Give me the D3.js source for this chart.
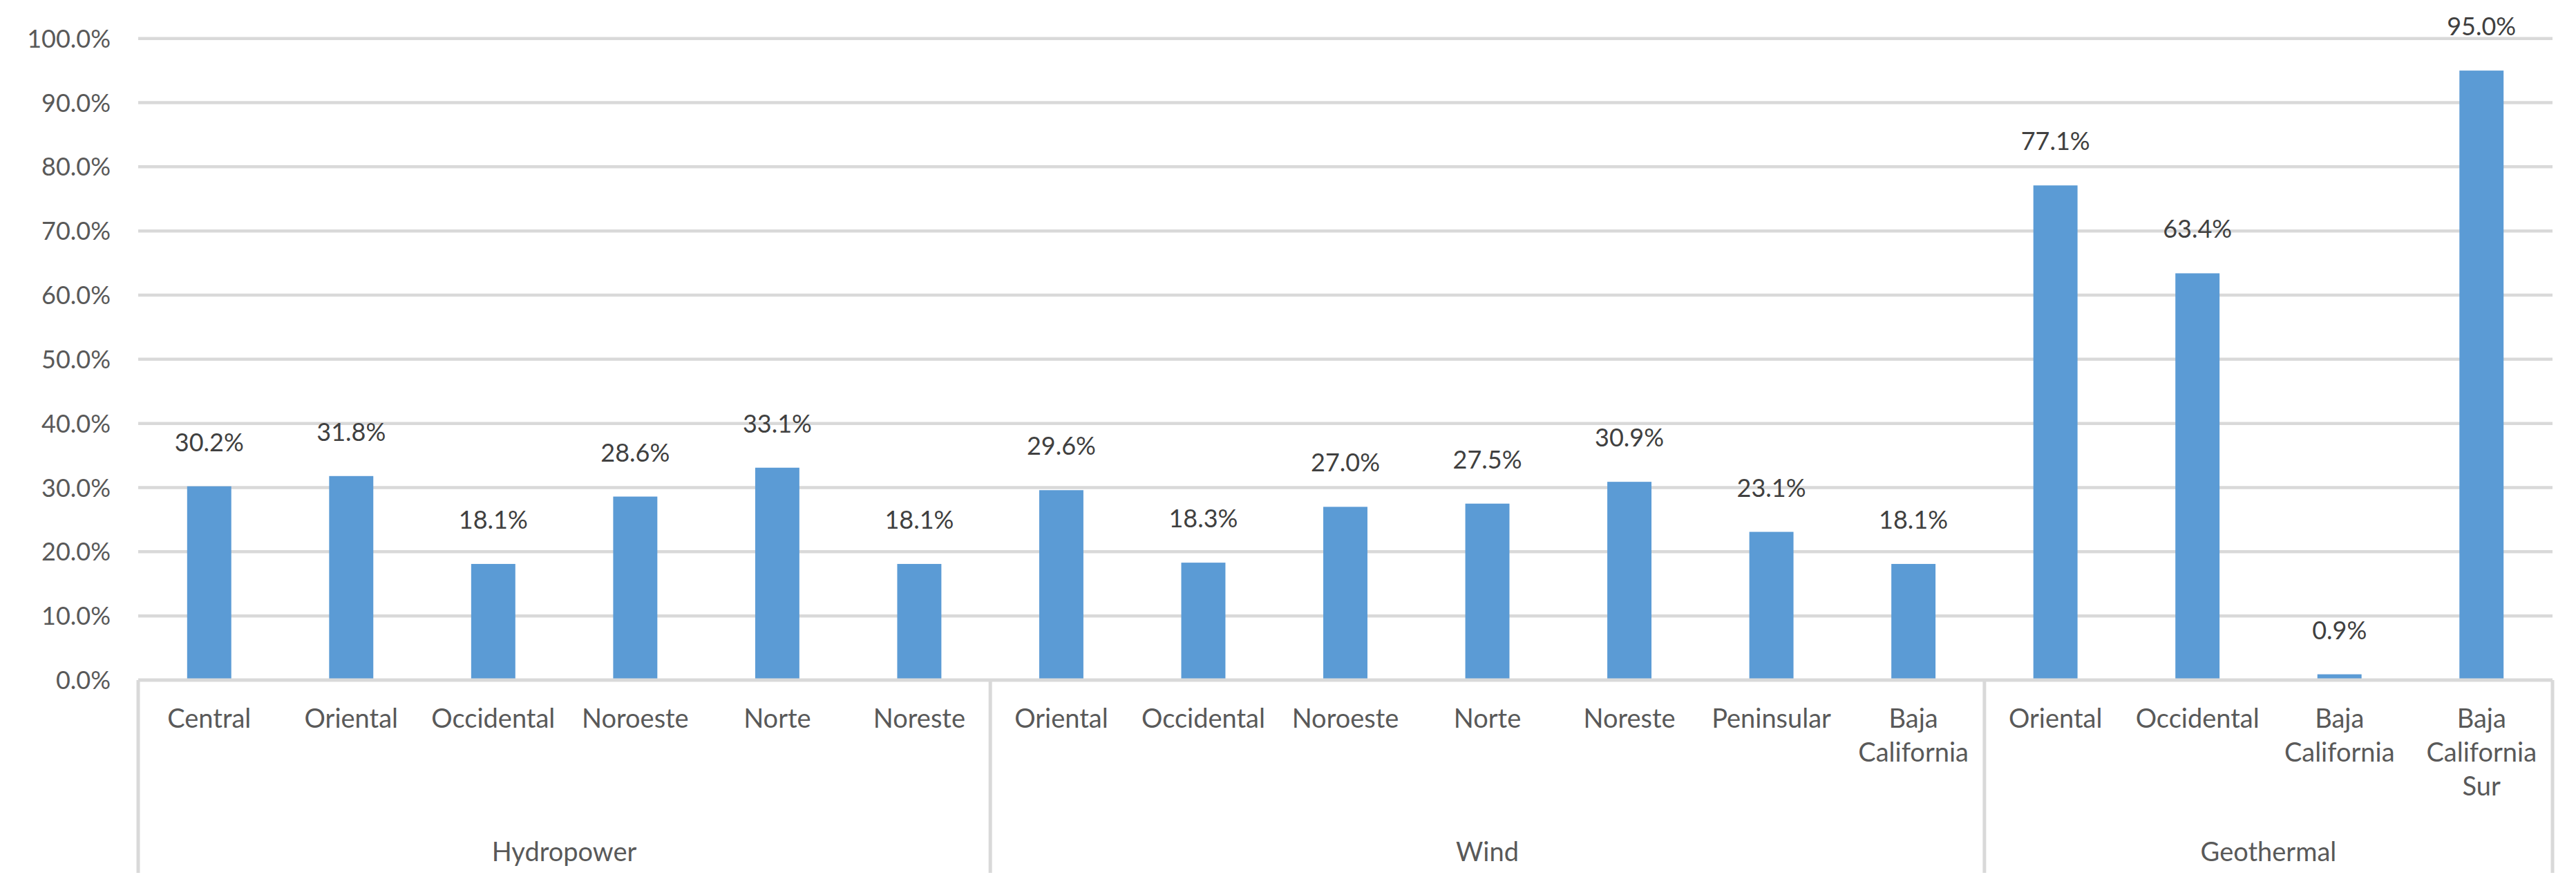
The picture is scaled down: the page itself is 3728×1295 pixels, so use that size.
<!DOCTYPE html>
<html>
<head>
<meta charset="utf-8">
<script src="https://cdn.jsdelivr.net/npm/d3@7"></script>
<style>
  html, body { margin: 0; padding: 0; background: #ffffff; }
  svg { display: block; }
  text { font-family: Lato, "Open Sans", sans-serif; }
</style>
</head>
<body>
<svg id="chart" width="3728" height="1295"></svg>
<script>
// ---- data ----
const categories = [
  "Central", "Oriental", "Occidental", "Noroeste", "Norte", "Noreste",
  "Oriental", "Occidental", "Noroeste", "Norte", "Noreste", "Peninsular", "Baja California",
  "Oriental", "Occidental", "Baja California", "Baja California Sur"
];
const groupNames = ["Hydropower", "Wind", "Geothermal"];
const groupSizes = [6, 7, 4];
const values = [
  30.2, 31.8, 18.1, 28.6, 33.1, 18.1,
  29.6, 18.3, 27.0, 27.5, 30.9, 23.1, 18.1,
  77.1, 63.4, 0.9, 95.0
];
const yTicks = [0, 10, 20, 30, 40, 50, 60, 70, 80, 90, 100];

(function () {
// ---- layout ----
const W = 3728, H = 1295;
const plotLeft = 200, plotRight = 3694, plotTop = 55.7, plotBottom = 984;
const sepBottom = 1263;
const barColor = "#5B9BD5";
const gridColor = "#D9D9D9";

const svg = d3.select("#chart");
svg.append("rect").attr("width", W).attr("height", H).attr("fill", "#fff");

const x = d3.scaleBand()
  .domain(d3.range(categories.length))
  .range([plotLeft, plotRight])
  .paddingInner(0.689)
  .paddingOuter(0.3445);
const step = x.step();

const y = d3.scaleLinear().domain([0, 100]).range([plotBottom, plotTop]);

// y axis labels
const yAxis = d3.axisLeft(y)
  .tickValues(yTicks)
  .tickSize(0)
  .tickPadding(40)
  .tickFormat(d => d3.format(".1f")(d) + "%");
const yg = svg.append("g").attr("transform", `translate(${plotLeft},0)`).call(yAxis);
yg.select(".domain").remove();
yg.selectAll("text")
  .attr("fill", "#595959")
  .attr("font-size", 36)
  .attr("font-family", "Lato, sans-serif")
  .attr("dy", "0.35em");

// gridlines
svg.append("g").selectAll("line")
  .data(yTicks.filter(d => d > 0))
  .join("line")
  .attr("x1", plotLeft).attr("x2", plotRight)
  .attr("y1", d => y(d)).attr("y2", d => y(d))
  .attr("stroke", gridColor).attr("stroke-width", 4.5);

// bars
svg.append("g").selectAll("rect")
  .data(values)
  .join("rect")
  .attr("x", (d, i) => x(i))
  .attr("width", x.bandwidth())
  .attr("y", d => y(d))
  .attr("height", d => y(0) - y(d))
  .attr("fill", barColor);

// data labels
svg.append("g").selectAll("text")
  .data(values)
  .join("text")
  .attr("x", (d, i) => x(i) + x.bandwidth() / 2)
  .attr("y", d => y(d) - 51)
  .attr("text-anchor", "middle")
  .attr("fill", "#404040")
  .attr("font-size", 36)
  .text(d => d3.format(".1f")(d) + "%");

// horizontal category axis line
svg.append("line")
  .attr("x1", plotLeft).attr("x2", plotRight)
  .attr("y1", plotBottom).attr("y2", plotBottom)
  .attr("stroke", gridColor).attr("stroke-width", 5);

// group separators
const bounds = [0];
groupSizes.forEach((s, i) => bounds.push(bounds[i] + s));
const edge = b => plotLeft + b * step;
svg.append("g").selectAll("line")
  .data(bounds)
  .join("line")
  .attr("x1", b => edge(b)).attr("x2", b => edge(b))
  .attr("y1", plotBottom).attr("y2", sepBottom)
  .attr("stroke", gridColor).attr("stroke-width", 5);

// category labels (wrapped)
const catFont = 38, lineH = 49;
const catG = svg.append("g");
const probe = svg.append("text").attr("font-size", catFont).attr("visibility", "hidden");
categories.forEach((c, i) => {
  const cx = x(i) + x.bandwidth() / 2;
  const t = catG.append("text")
    .attr("x", cx)
    .attr("y", 1053)
    .attr("text-anchor", "middle")
    .attr("fill", "#595959")
    .attr("font-size", catFont);
  const words = c.split(" ");
  let line = [];
  const lines = [];
  words.forEach(w => {
    const test = line.concat([w]).join(" ");
    probe.text(test);
    if (line.length && probe.node().getComputedTextLength() > step * 0.92) {
      lines.push(line.join(" "));
      line = [w];
    } else {
      line.push(w);
    }
  });
  if (line.length) lines.push(line.join(" "));
  lines.forEach((l, k) => {
    t.append("tspan")
      .attr("x", cx)
      .attr("y", 1053 + k * lineH)
      .text(l);
  });
});
probe.remove();

// group labels
svg.append("g").selectAll("text")
  .data(groupNames)
  .join("text")
  .attr("x", (d, i) => (edge(bounds[i]) + edge(bounds[i + 1])) / 2)
  .attr("y", 1246)
  .attr("text-anchor", "middle")
  .attr("fill", "#595959")
  .attr("font-size", catFont)
  .text(d => d);
})();
</script>
</body>
</html>
